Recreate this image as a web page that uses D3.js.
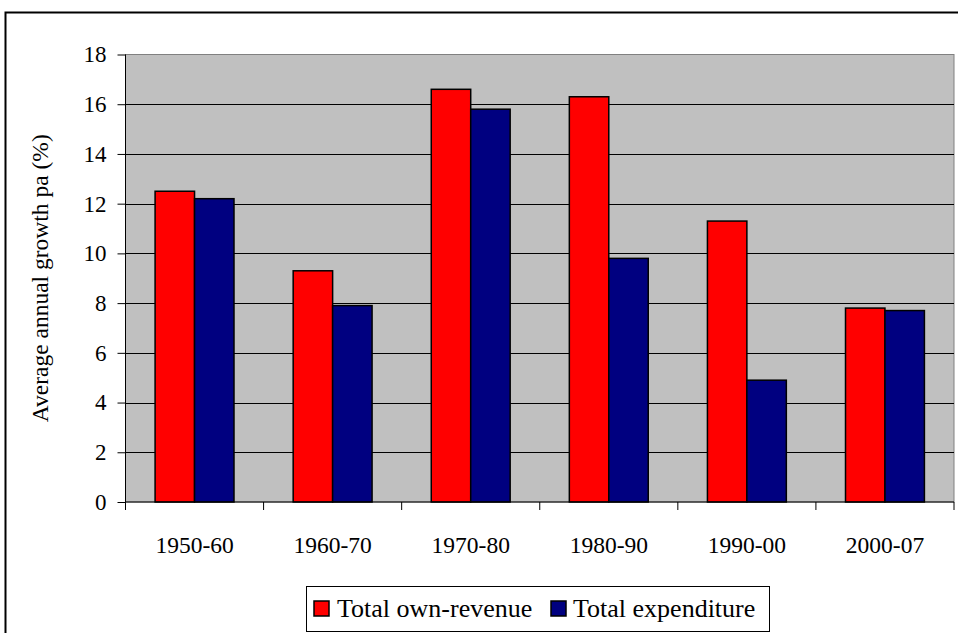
<!DOCTYPE html>
<html>
<head>
<meta charset="utf-8">
<script src="https://cdn.jsdelivr.net/npm/d3@7/dist/d3.min.js"></script>
<style>
  html, body { margin: 0; padding: 0; background: #fff; }
  svg { display: block; }
  svg text { font-family: "Liberation Serif", "Times New Roman", "DejaVu Serif", serif; fill: #000; }
</style>
</head>
<body>
<svg id="chart" width="958" height="633"></svg>
<script>
// Average annual growth by decade
const periods = ["1950-60", "1960-70", "1970-80", "1980-90", "1990-00", "2000-07"];
const revenue = [12.5, 9.3, 16.6, 16.3, 11.3, 7.8];
const expenditure = [12.2, 7.9, 15.8, 9.8, 4.9, 7.7];
const seriesNames = ["Total own-revenue", "Total expenditure"];
const seriesColors = ["#FF0000", "#000080"];
const yTicks = [0, 2, 4, 6, 8, 10, 12, 14, 16, 18];

const serif = '"Liberation Serif", "Times New Roman", "DejaVu Serif", serif';
const svg = d3.select("#chart");
const plot = { left: 125.5, right: 954, top: 54.5, bottom: 502 };

// outer chart frame
svg.append("rect")
  .attr("x", 5.5).attr("y", 12.5)
  .attr("width", 1000).attr("height", 700)
  .attr("fill", "#fff").attr("stroke", "#000").attr("stroke-width", 2);

const x = d3.scaleBand().domain(periods).range([plot.left, plot.right])
  .paddingInner(0).paddingOuter(0);
const inner = d3.scaleBand().domain(seriesNames).range([0, x.bandwidth()])
  .paddingOuter(0.75).paddingInner(0);
const y = d3.scaleLinear().domain([0, 18]).range([plot.bottom, plot.top]);

// plot area
svg.append("rect")
  .attr("x", plot.left).attr("y", plot.top)
  .attr("width", plot.right - plot.left).attr("height", plot.bottom - plot.top)
  .attr("fill", "#C0C0C0").attr("stroke", "#808080").attr("stroke-width", 1);

// gridlines
svg.append("g").selectAll("line")
  .data(yTicks.filter(d => d > 0 && d < 18))
  .join("line")
  .attr("x1", plot.left).attr("x2", plot.right)
  .attr("y1", d => Math.round(y(d)) + 0.5).attr("y2", d => Math.round(y(d)) + 0.5)
  .attr("stroke", "#000").attr("stroke-width", 1);

// bars
const groups = svg.append("g").selectAll("g")
  .data(periods.map((p, i) => ({ p, vals: [revenue[i], expenditure[i]] })))
  .join("g")
  .attr("transform", d => `translate(${x(d.p)},0)`);

groups.selectAll("rect")
  .data(d => d.vals.map((v, j) => ({ v, j })))
  .join("rect")
  .attr("x", d => inner(seriesNames[d.j]))
  .attr("y", d => y(d.v))
  .attr("width", inner.bandwidth())
  .attr("height", d => y(0) - y(d.v))
  .attr("fill", d => seriesColors[d.j])
  .attr("stroke", "#000").attr("stroke-width", 1.5);

// y axis
const yAxis = d3.axisLeft(y).tickValues(yTicks).tickSize(8).tickPadding(11)
  .tickFormat(d3.format("d"));
const gy = svg.append("g").attr("transform", `translate(${plot.left},0)`).call(yAxis)
  .attr("font-family", serif).attr("font-size", 23);
gy.select(".domain").attr("stroke", "#000").attr("d", `M0,${plot.top}V${plot.bottom}`);
gy.selectAll(".tick line").attr("stroke", "#000");

// x axis
const xAxis = d3.axisBottom(x).tickSize(0).tickPadding(34);
const gx = svg.append("g").attr("transform", `translate(0,${plot.bottom})`).call(xAxis)
  .attr("font-family", serif).attr("font-size", 23.5);
gx.select(".domain").attr("stroke", "#000").attr("d", `M${plot.left},0H${plot.right}`);
// category separators
svg.append("g").selectAll("line")
  .data(periods.concat(["end"]))
  .join("line")
  .attr("x1", (d, i) => i < periods.length ? x(d) : plot.right)
  .attr("x2", (d, i) => i < periods.length ? x(d) : plot.right)
  .attr("y1", plot.bottom).attr("y2", plot.bottom + 8)
  .attr("stroke", "#000");

// y axis title
svg.append("text")
  .attr("transform", `translate(48,${(plot.top + plot.bottom) / 2}) rotate(-90)`)
  .attr("text-anchor", "middle")
  .attr("font-family", serif).attr("font-size", 23.5)
  .text("Average annual growth pa (%)");

// legend
const lg = svg.append("g").attr("font-family", serif).attr("font-size", 26);
lg.append("rect")
  .attr("x", 306.5).attr("y", 586.5).attr("width", 463).attr("height", 45)
  .attr("fill", "#fff").attr("stroke", "#000").attr("stroke-width", 1);
const legendItems = [
  { name: seriesNames[0], color: seriesColors[0], sx: 314, tx: 337 },
  { name: seriesNames[1], color: seriesColors[1], sx: 551, tx: 573 }
];
legendItems.forEach(it => {
  lg.append("rect")
    .attr("x", it.sx).attr("y", 601).attr("width", 15).attr("height", 15)
    .attr("fill", it.color).attr("stroke", "#000").attr("stroke-width", 1.5);
  lg.append("text")
    .attr("x", it.tx).attr("y", 617)
    .text(it.name);
});
</script>
</body>
</html>
